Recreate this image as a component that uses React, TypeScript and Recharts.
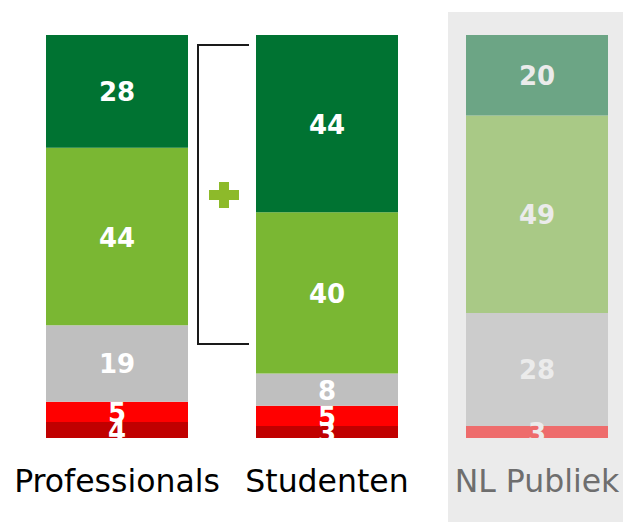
import React from 'react';
import { BarChart, Bar, XAxis, YAxis, Cell, LabelList } from 'recharts';

const categories = ['Professionals', 'Studenten', 'NL Publiek'];
const zeerOneens = [4, 3, 0];
const oneens = [5, 5, 3];
const neutraal = [19, 8, 28];
const eens = [44, 40, 49];
const zeerEens = [28, 44, 20];

const data = categories.map((name, i) => ({
  name,
  zeerOneens: zeerOneens[i],
  oneens: oneens[i],
  neutraal: neutraal[i],
  eens: eens[i],
  zeerEens: zeerEens[i],
}));

const series = [
  { key: 'zeerOneens', color: '#C00000', faded: '#E77070' },
  { key: 'oneens', color: '#FF0000', faded: '#EE6C6C' },
  { key: 'neutraal', color: '#BFBFBF', faded: '#CCCCCC' },
  { key: 'eens', color: '#7AB733', faded: '#A9C986' },
  { key: 'zeerEens', color: '#007332', faded: '#6CA585' },
];

const FADED_INDEX = 2;
const CHART_W = 642;
const CHART_H = 522;
const MARGIN = { top: 35, right: 0, bottom: 0, left: 12 };
const XAXIS_H = 84;
const PLOT_BOTTOM = CHART_H - MARGIN.bottom - XAXIS_H;

const ValueLabel = (props: any) => {
  const { x, y, width, height, value, index } = props;
  if (!value) return null;
  return (
    <g clipPath="url(#plotClip)">
      <text
        x={x + width / 2}
        y={y + height / 2 + 1}
        textAnchor="middle"
        dominantBaseline="central"
        fill={index === FADED_INDEX ? '#EBEBEB' : '#FFFFFF'}
        fontFamily="'DejaVu Sans', Verdana, sans-serif"
        fontWeight="bold"
        fontSize={26}
      >
        {value}
      </text>
    </g>
  );
};

const CategoryTick = (props: any) => {
  const { x, y, index } = props;
  return (
    <text
      x={x}
      y={y + 54}
      textAnchor="middle"
      fill={index === FADED_INDEX ? '#6E6E6E' : '#000000'}
      fontFamily="'DejaVu Sans', Verdana, sans-serif"
      fontSize={31.5}
    >
      {categories[index]}
    </text>
  );
};

export default function App() {
  return (
    <div style={{ position: 'relative', width: 623, height: 522, overflow: 'hidden' }}>
      <style>{`body{margin:0;}`}</style>
      <div
        style={{
          position: 'absolute',
          left: 448,
          top: 12,
          width: 175,
          height: 510,
          background: '#EBEBEB',
        }}
      />
      <div style={{ position: 'absolute', left: 0, top: 0 }}>
        <BarChart width={CHART_W} height={CHART_H} data={data} margin={MARGIN} barSize={142}>
          <XAxis
            dataKey="name"
            height={XAXIS_H}
            axisLine={false}
            tickLine={false}
            tickSize={0}
            tickMargin={0}
            interval={0}
            tick={<CategoryTick />}
          />
          <YAxis hide domain={[0, 100]} type="number" />
          {series.map((s) => (
            <Bar key={s.key} dataKey={s.key} stackId="a" isAnimationActive={false}>
              {data.map((d, i) => (
                <Cell key={i} fill={i === FADED_INDEX ? s.faded : s.color} />
              ))}
              <LabelList dataKey={s.key} content={<ValueLabel />} />
            </Bar>
          ))}
        </BarChart>
      </div>
      <svg
        width={623}
        height={522}
        style={{ position: 'absolute', left: 0, top: 0, pointerEvents: 'none' }}
      >
        <defs>
          <clipPath id="plotClip" clipPathUnits="userSpaceOnUse">
            <rect x={0} y={0} width={CHART_W} height={PLOT_BOTTOM} />
          </clipPath>
        </defs>
        <path d="M249 45 H198 V344 H249" fill="none" stroke="#1A1A1A" strokeWidth={2} />
        <path
          d="M219 182 H229 V190 H239 V200 H229 V208 H219 V200 H209 V190 H219 Z"
          fill="#8DBA2A"
        />
      </svg>
    </div>
  );
}
